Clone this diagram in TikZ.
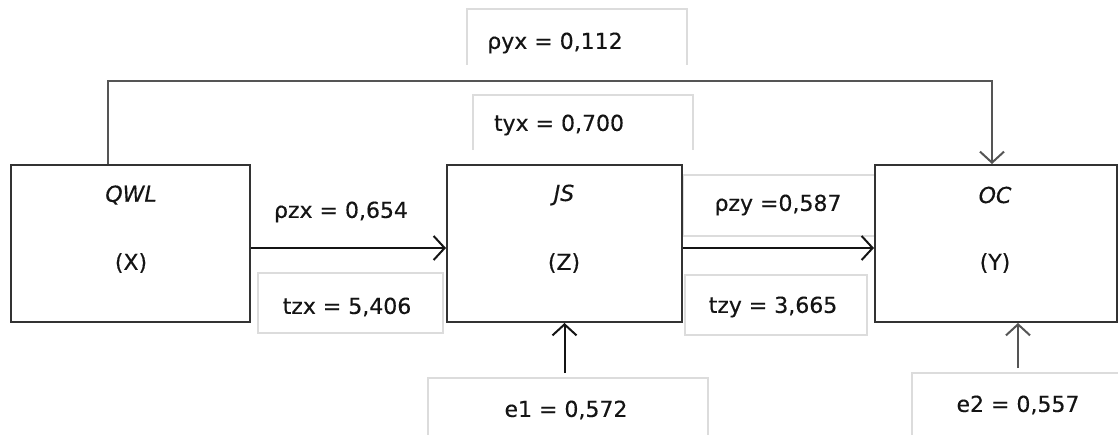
\documentclass[tikz,border=0pt]{standalone}
\usepackage{fontspec}
\setmainfont{DejaVu Sans}[FakeBold=0.35]
\usetikzlibrary{arrows.meta,calc}
\definecolor{boxline}{HTML}{333333}
\definecolor{lblline}{HTML}{DCDCDC}
\definecolor{greyline}{HTML}{555555}
\definecolor{ink}{HTML}{141414}
\tikzset{
  varbox/.style={draw=boxline, line width=2pt, fill=white, inner sep=0pt},
  lbl/.style={font=\fontsize{22}{25}\selectfont, text=ink, inner sep=0pt},
  vname/.style={lbl, font=\fontsize{22}{25}\selectfont\itshape},
  lframe/.style={draw=lblline, line width=1.4pt},
  barb/.style={-{Straight Barb[length=11pt,width=24pt,line width=2pt]}, line width=2pt},
}
\begin{document}
\begin{tikzpicture}[x=1pt,y=-1pt]
\clip (0,0) rectangle (1118,435);
\fill[white] (0,0) rectangle (1118,435);

% light frames behind the coefficient labels
\draw[lframe] (467,65) -- (467,9) -- (687,9) -- (687,65);
\draw[lframe] (473,150) -- (473,95) -- (693,95) -- (693,150);
\draw[lframe] (258,273) rectangle (443,333);
\draw[lframe] (683,175) rectangle (875,236);
\draw[lframe] (685,275) rectangle (867,335);
\draw[lframe] (428,445) -- (428,378) -- (708,378) -- (708,445);
\draw[lframe] (912,445) -- (912,373) -- (1130,373);

% variable boxes
\node[varbox, minimum width=239pt, minimum height=157pt] (X) at (130.5,243.5) {};
\node[varbox, minimum width=235pt, minimum height=157pt] (Z) at (564.5,243.5) {};
\node[varbox, minimum width=242pt, minimum height=157pt] (Y) at (996,243.5) {};

\node[vname] (xname) at (131,195) {QWL};
\node[lbl]   (xsym)  at (131,263) {(X)};
\node[vname] (zname) at (564,195) {JS};
\node[lbl]   (zsym)  at (564,263) {(Z)};
\node[vname] (yname) at (995,195) {OC};
\node[lbl]   (ysym)  at (995,263) {(Y)};

% coefficient labels
\node[lbl] (pyx) at (555,43)  {ρyx = 0,112};
\node[lbl] (tyx) at (559,125) {tyx = 0,700};
\node[lbl] (pzx) at (341,212) {ρzx = 0,654};
\node[lbl] (tzx) at (347,307) {tzx = 5,406};
\node[lbl] (pzy) at (778,205) {ρzy =0,587};
\node[lbl] (tzy) at (773,307) {tzy = 3,665};
\node[lbl] (e1)  at (566,410) {e1 = 0,572};
\node[lbl] (e2)  at (1018,405) {e2 = 0,557};

\coordinate (e1start) at (564.5,373);
\coordinate (e2start) at (1018,368);

% paths
\draw[barb, draw=ink] ($(X.east)+(0,4.5)$) -- ($(Z.west)+(0,4.5)$);
\draw[barb, draw=ink] ($(Z.east)+(0,4.5)$) -- ($(Y.west)+(0,4.5)$);
\draw[barb, draw=greyline] ($(X.north)+(-22.5,0)$) -- ++(0,-83) -| ($(Y.north)+(-4,0)$);
\draw[barb, draw=ink] (e1start) -- (Z.south);
\draw[barb, draw=greyline] (e2start) -- (e2start |- Y.south);
\end{tikzpicture}
\end{document}
